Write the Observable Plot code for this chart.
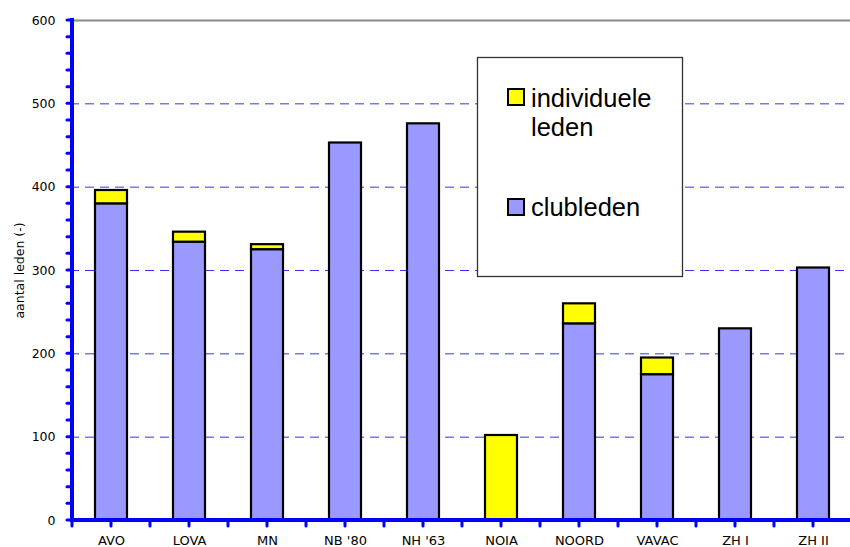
<!DOCTYPE html>
<html>
<head>
<meta charset="utf-8">
<script src="https://cdn.jsdelivr.net/npm/d3@7"></script>
<script src="https://cdn.jsdelivr.net/npm/@observablehq/plot@0.6"></script>
<style>
  html, body { margin: 0; padding: 0; background: #fff; overflow: hidden; }
  #chart svg { display: block; }
</style>
</head>
<body>
<div id="chart"></div>
<script>
const categories = ["AVO", "LOVA", "MN", "NB '80", "NH '63", "NOIA", "NOORD", "VAVAC", "ZH I", "ZH II"];
const clubleden = [380, 334, 325, 453, 476, 0, 236, 175, 230, 303];
const individueleLeden = [16, 12, 6, 0, 0, 102, 24, 20, 0, 0];
const seriesNames = ["clubleden", "individuele leden"];
const seriesColors = ["#9999ff", "#ffff00"];
const yMajorTicks = [0, 100, 200, 300, 400, 500, 600];
const yMinorTicks = d3.range(0, 601, 20);
const gridTicks = [100, 200, 300, 400, 500];
const yLabel = "aantal leden (-)";

const rows = [];
categories.forEach((c, i) => {
  rows.push({cat: c, series: seriesNames[0], value: clubleden[i]});
  rows.push({cat: c, series: seriesNames[1], value: individueleLeden[i]});
});
const data = rows.filter(d => d.value > 0);

function axesMark(index, scales, values, dims) {
  const g = d3.create("svg:g");
  const xs = scales.x, ys = scales.y;
  const step = xs(categories[1]) - xs(categories[0]);
  const left = xs(categories[0]);
  const right = dims.width - dims.marginRight;
  const y0 = ys(0), yTop = ys(600);
  for (const t of yMinorTicks) {
    g.append("line").attr("x1", left).attr("x2", left - 5)
      .attr("y1", ys(t)).attr("y2", ys(t))
      .attr("stroke", "#0000ff").attr("stroke-width", 3).attr("stroke-linecap", "round");
  }
  for (let i = 0; i <= categories.length * 2; i++) {
    const xx = left + i * step / 2;
    if (xx > right) break;
    g.append("line").attr("x1", xx).attr("x2", xx)
      .attr("y1", y0).attr("y2", y0 + 6)
      .attr("stroke", "#0000ff").attr("stroke-width", 3).attr("stroke-linecap", "round");
  }
  g.append("line").attr("x1", left).attr("x2", left)
    .attr("y1", yTop - 2).attr("y2", y0 + 2)
    .attr("stroke", "#0000ff").attr("stroke-width", 4);
  g.append("line").attr("x1", left - 2).attr("x2", right)
    .attr("y1", y0).attr("y2", y0)
    .attr("stroke", "#0000ff").attr("stroke-width", 4);
  return g.node();
}

function legendMark(index, scales, values, dims) {
  const g = d3.create("svg:g");
  g.append("rect").attr("x", 477.5).attr("y", 57.5).attr("width", 205).attr("height", 219)
    .attr("fill", "#fff").attr("stroke", "#333").attr("stroke-width", 1.3);
  const items = [
    {color: seriesColors[1], lines: ["individuele", "leden"], sy: 89, ty: 107},
    {color: seriesColors[0], lines: ["clubleden"], sy: 199, ty: 216}
  ];
  for (const it of items) {
    g.append("rect").attr("x", 508).attr("y", it.sy).attr("width", 16).attr("height", 16)
      .attr("fill", it.color).attr("stroke", "#000").attr("stroke-width", 2);
    const t = g.append("text").attr("x", 531).attr("y", it.ty)
      .attr("text-anchor", "start")
      .attr("font-family", "'Liberation Sans', Arial, sans-serif")
      .attr("font-size", 25.5).attr("fill", "#000");
    it.lines.forEach((l, k) => {
      t.append("tspan").attr("x", 531).attr("dy", k === 0 ? 0 : 29).text(l);
    });
  }
  return g.node();
}

const chart = Plot.plot({
  width: 850,
  height: 547,
  marginLeft: 70,
  marginRight: 0,
  marginTop: 20,
  marginBottom: 27,
  style: {background: "#fff", fontFamily: "'DejaVu Sans', Verdana, sans-serif"},
  x: {type: "band", domain: categories, range: [70, 854], padding: 0, axis: null},
  y: {domain: [0, 600], axis: null},
  color: {domain: seriesNames, range: seriesColors},
  marks: [
    Plot.ruleY(gridTicks, {stroke: "#3333ff", strokeWidth: 1, strokeDasharray: "9,6"}),
    Plot.ruleY([600], {stroke: "#888", strokeWidth: 2}),
    Plot.barY(data, {
      x: "cat", y: "value", fill: "series", z: "series",
      order: seriesNames,
      stroke: "#000", strokeWidth: 2.2, insetLeft: 23, insetRight: 23
    }),
    axesMark,
    Plot.axisY({ticks: yMajorTicks, tickSize: 0, tickPadding: 15, fontSize: 12.5, label: null, tickFormat: d => String(d)}),
    Plot.axisX({tickSize: 0, tickPadding: 15, fontSize: 13, label: null}),
    Plot.text([yLabel], {frameAnchor: "left", dx: -51, rotate: -90, fontSize: 12.5, textAnchor: "middle", lineAnchor: "middle", fill: "#000"}),
    legendMark
  ]
});
document.getElementById("chart").appendChild(chart);
</script>
</body>
</html>
